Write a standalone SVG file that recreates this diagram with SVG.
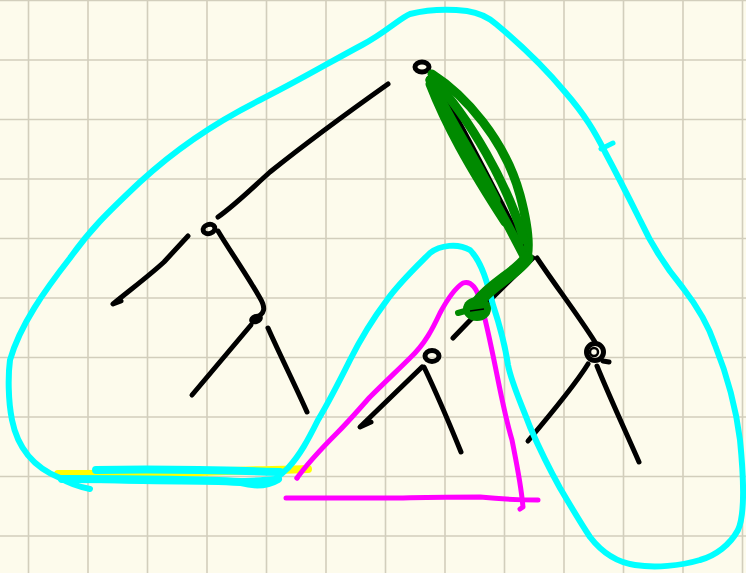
<svg xmlns="http://www.w3.org/2000/svg" width="746" height="573" viewBox="0 0 746 573">
<defs>
<style>
.grid line{stroke:#d2cebc;stroke-width:1.6}
.k{fill:none;stroke:#000;stroke-width:5;stroke-linecap:round;stroke-linejoin:round}
.c{fill:none;stroke:#00ffff;stroke-width:6;stroke-linecap:round;stroke-linejoin:round}
.m{fill:none;stroke:#ff00ff;stroke-width:5;stroke-linecap:round;stroke-linejoin:round}
.g{fill:none;stroke:#008a00;stroke-width:9;stroke-linecap:round;stroke-linejoin:round}
.y{fill:none;stroke:#ffff00;stroke-width:8;stroke-linecap:round;stroke-linejoin:round}
</style>
</defs>
<rect width="746" height="573" fill="#fdfbec"/>
<g class="grid">
<line x1="28.5" y1="0" x2="28.5" y2="573"/><line x1="88" y1="0" x2="88" y2="573"/><line x1="147.5" y1="0" x2="147.5" y2="573"/><line x1="207" y1="0" x2="207" y2="573"/><line x1="266.5" y1="0" x2="266.5" y2="573"/><line x1="326" y1="0" x2="326" y2="573"/><line x1="385.5" y1="0" x2="385.5" y2="573"/><line x1="445" y1="0" x2="445" y2="573"/><line x1="504.5" y1="0" x2="504.5" y2="573"/><line x1="564" y1="0" x2="564" y2="573"/><line x1="623.5" y1="0" x2="623.5" y2="573"/><line x1="683" y1="0" x2="683" y2="573"/><line x1="742.5" y1="0" x2="742.5" y2="573"/>
<line x1="0" y1="0.5" x2="746" y2="0.5"/><line x1="0" y1="60" x2="746" y2="60"/><line x1="0" y1="119.5" x2="746" y2="119.5"/><line x1="0" y1="179" x2="746" y2="179"/><line x1="0" y1="238.5" x2="746" y2="238.5"/><line x1="0" y1="298" x2="746" y2="298"/><line x1="0" y1="357.5" x2="746" y2="357.5"/><line x1="0" y1="417" x2="746" y2="417"/><line x1="0" y1="476.5" x2="746" y2="476.5"/><line x1="0" y1="536" x2="746" y2="536"/>
</g>

<g id="connectors">
<path class="k" d="M388,84 C340,118 300,148 270,172 C250,190 235,205 218,217"/>
<path class="k" d="M188,236 L164,262 C150,275 130,290 113,304 L121,301"/>
<path class="k" d="M218,231 C228,248 245,272 260,298 C266,308 265,314 255,318"/>
<path class="k" d="M251,325 L192,395"/>
<path class="k" d="M268,328 C280,355 295,385 307,412"/>
<path class="k" d="M433,76 C460,120 495,190 528,255"/>
<path class="k" d="M537,258 C555,285 578,315 595,342"/>
<path class="k" d="M533,258 C510,280 480,310 453,338"/>
<path class="k" d="M422,367 L360,427 L371,422"/>
<path class="k" d="M424,367 C435,390 450,425 461,452"/>
<path class="k" d="M588,364 C575,385 550,415 528,441"/>
<path class="k" d="M597,366 C610,398 625,430 639,462"/>
</g>

<g id="node-root"><ellipse class="k" cx="422" cy="67" rx="7" ry="5"/></g>
<g id="node-left"><ellipse class="k" cx="209" cy="229" rx="6" ry="4.5" transform="rotate(-20 209 229)"/></g>
<g id="node-left-right"><ellipse cx="256" cy="319" rx="7" ry="5" fill="#000" transform="rotate(-20 256 319)"/></g>
<g id="node-mid"><ellipse class="k" cx="432" cy="356" rx="7" ry="5.5"/></g>
<g id="node-right"><circle class="k" cx="595" cy="352" r="8.5"/><circle class="k" cx="594" cy="352" r="4" style="stroke-width:2.5"/><path class="k" d="M603,361 L609,362"/></g>

<g id="yellow-mark">
<path class="y" d="M58,474 C110,474 160,474 200,472 C250,470 285,470 308,469"/>
</g>

<g id="magenta-triangle">
<path class="m" d="M297,478 C305,467 320,450 337,433 C350,420 360,408 370,397 C385,382 400,368 410,358 C425,344 433,328 440,313 C447,300 455,288 463,283 C472,280 477,290 480,300 C486,320 492,350 497,375 C502,400 506,420 512,440 C516,460 520,480 522,498 L523,507 L520,509"/>
<path class="m" d="M286,498 C330,498 380,498 403,498 C430,497 460,497 480,497 C500,499 520,500 538,500"/>
<circle cx="297" cy="478" r="2.5" fill="#ff00ff"/>
</g>

<g id="cyan-outer">
<path class="c" d="M275,479 C250,482 180,482 100,480 L60,478 C35,468 18,450 12,420 C8,400 8,375 10,360 C20,325 45,290 70,258 C90,230 105,215 140,182 C180,145 220,120 260,100 C300,80 330,62 362,45 C385,33 400,18 410,14 C430,9 450,9 467,11 C480,13 488,17 496,24 C520,44 545,68 565,92 C585,115 595,132 605,152 C620,180 630,200 640,220 C652,246 668,270 683,288 C700,310 710,330 715,345 C725,370 735,400 740,440 C744,480 745,515 738,530 C730,545 715,556 700,560 C680,566 655,568 635,565 C615,562 600,550 590,537 C580,522 570,505 560,488 C550,470 540,450 530,427 C522,405 512,385 508,365 C505,345 498,320 493,305 C488,285 482,262 470,250 C458,243 440,245 430,253 C415,268 400,282 387,300 C372,320 360,340 350,360 C340,380 330,400 318,420 C308,440 300,455 288,468 C282,474 278,477 275,479"/>
<path class="c" d="M60,478 C70,484 80,487 90,489"/>
<path class="c" d="M96,470 C150,469 220,470 280,472" style="stroke-width:8"/>
<path class="c" d="M62,479 C120,479 190,479 240,482 C255,486 268,485 278,479" style="stroke-width:8"/>
<path class="c" d="M601,149 L613,143" style="stroke-width:5"/>
</g>

<g id="green-path">
<path class="g" d="M432,74 C465,95 505,140 520,195 C528,225 530,245 527,258"/>
<path class="g" d="M430,80 C455,130 490,190 525,258"/>
<path class="g" d="M432,78 C470,118 508,185 524,240"/>
<path class="g" d="M430,84 C446,125 468,165 505,222"/>
<path class="g" d="M431,80 C445,115 470,150 495,200" style="stroke-width:11"/>
<path class="g" d="M527,258 C518,272 492,284 478,302" style="stroke-width:13"/>
<ellipse cx="477" cy="309" rx="14" ry="12" fill="#008a00"/>
<path class="g" d="M458,313 L472,309" style="stroke-width:6"/>
<path d="M470,311 L484,309" stroke="#000" stroke-width="1.5" fill="none"/>
</g>
</svg>
